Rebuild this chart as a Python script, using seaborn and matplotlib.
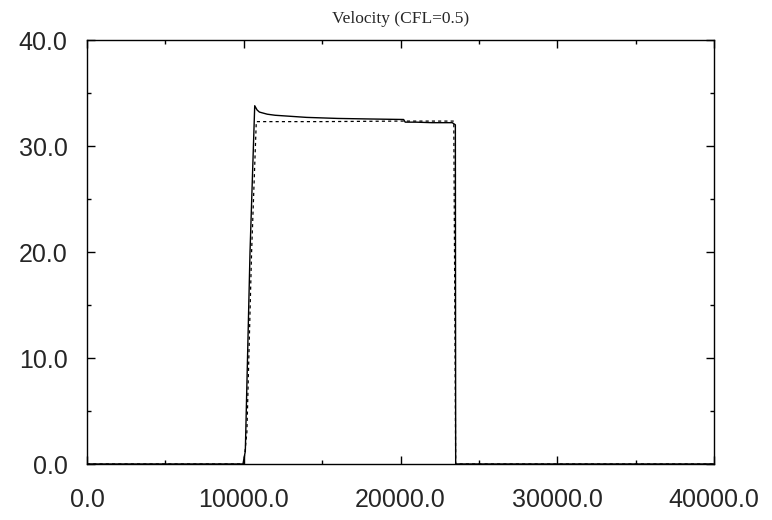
import numpy as np
import pandas as pd
import matplotlib
matplotlib.use("Agg")
import matplotlib.pyplot as plt
import seaborn as sns
from matplotlib.ticker import MultipleLocator, FormatStrFormatter

# solid curve (numerical solution)
x_solid = [0, 9950, 10100, 10400, 10700, 10850, 11000, 11500, 12000, 13000, 14000,
           16000, 18000, 20200, 20300, 21000, 22000, 23300, 23500, 23520, 40000]
v_solid = [0.0, 0.0, 1.2, 20.0, 33.8, 33.4, 33.2, 33.0, 32.9, 32.8, 32.7,
           32.6, 32.55, 32.5, 32.25, 32.25, 32.2, 32.2, 32.0, 0.0, 0.0]

# dashed curve (reference)
x_dash = [0, 10000, 10200, 10500, 10800, 15000, 20000, 23400, 23520, 40000]
v_dash = [0.0, 0.0, 3.0, 20.0, 32.3, 32.3, 32.35, 32.35, 0.0, 0.0]

sns.set_style("ticks")
plt.rcParams['font.family'] = ['Liberation Sans', 'DejaVu Sans']

fig = plt.figure(figsize=(7.72, 5.20), dpi=100)
ax = fig.add_axes([87 / 772, 1 - 464 / 520, (714 - 87) / 772, (464 - 40) / 520])

df_s = pd.DataFrame({'x': x_solid, 'v': v_solid})
df_d = pd.DataFrame({'x': x_dash, 'v': v_dash})
sns.lineplot(data=df_s, x='x', y='v', ax=ax, color='black', linewidth=1.0, sort=False)
sns.lineplot(data=df_d, x='x', y='v', ax=ax, color='black', linewidth=0.9,
             linestyle=(0, (2.5, 2.5)), sort=False)

ax.set_xlim(0, 40000)
ax.set_ylim(0, 40)
ax.set_xlabel('')
ax.set_ylabel('')
ax.xaxis.set_major_locator(MultipleLocator(10000))
ax.xaxis.set_minor_locator(MultipleLocator(5000))
ax.yaxis.set_major_locator(MultipleLocator(10))
ax.yaxis.set_minor_locator(MultipleLocator(5))
ax.xaxis.set_major_formatter(FormatStrFormatter('%.1f'))
ax.yaxis.set_major_formatter(FormatStrFormatter('%.1f'))
ax.tick_params(which='both', direction='in', top=True, right=True, color='black')
ax.tick_params(which='major', length=6, width=1, labelsize=18)
ax.tick_params(axis='x', which='major', pad=17)
ax.tick_params(axis='y', which='major', pad=14)
ax.tick_params(which='minor', length=3, width=1)
for s in ax.spines.values():
    s.set_visible(True)
    s.set_color('black')
    s.set_linewidth(1.0)

ax.set_title('Velocity (CFL=0.5)', fontsize=12.5, family=['Liberation Serif', 'DejaVu Serif'], pad=12)

fig.savefig('out.png', dpi=100)
